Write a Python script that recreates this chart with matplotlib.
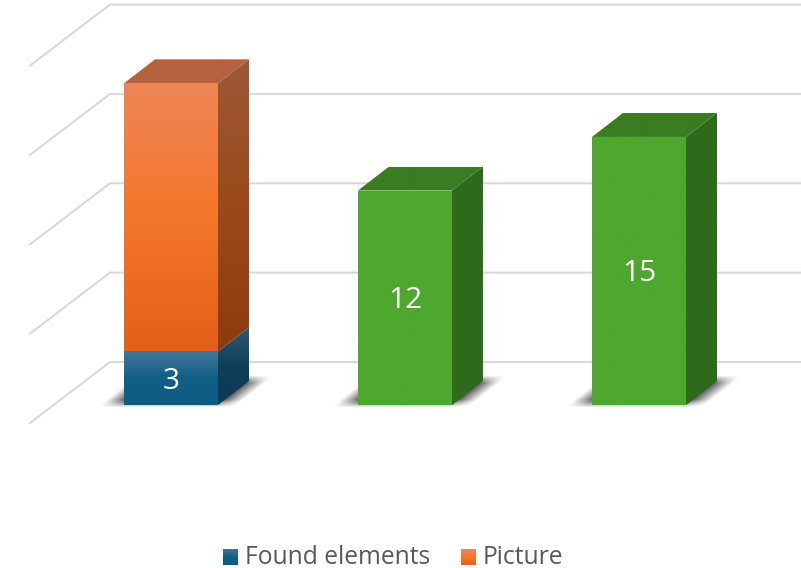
# 3D-looking stacked bars, drawn by hand since the look is not mplot3d's

import numpy as np
from matplotlib import pyplot as plt
from matplotlib.colors import LinearSegmentedColormap
from matplotlib.patches import Polygon

categories = ["A", "B", "C"]
found_elements = [3, 0, 0]
picture = [15, 0, 0]
other = [0, 12, 15]
grid_values = [0, 5, 10, 15, 20]
legend_labels = ["Found elements", "Picture"]

PX_X = 234.0  # pixels per category
PX_Y = 17.87  # pixels per value unit
BAR_W = 94 / PX_X
DEPTH_X = 31 / PX_X
DEPTH_Y = 24 / PX_Y

BLUE = {
    "front": ["#0f5a80", "#115f87", "#44779a"],
    "side": ["#0a3a55", "#0e3f5a", "#33596f"],
    "top": ["#33596f", "#33596f"],
}
ORANGE = {
    "front": ["#e45f1a", "#f4772a", "#ef8556"],
    "side": ["#8c3b0e", "#9a4a1c", "#9c5836"],
    "top": ["#b5623f", "#b5623f"],
}
GREEN = {
    "front": ["#4ea72e", "#4ea72e"],
    "side": ["#2f6a1c", "#2f6a1c"],
    "top": ["#3a7c22", "#3a7c22"],
}


def px_x(px):
    return (px - 124) / PX_X


def px_y(px):
    return (405 - px) / PX_Y


def gradient_poly(ax, points, colors, zorder):
    # vertical gradient clipped to a polygon, colors go bottom to top
    xs = [p[0] for p in points]
    ys = [p[1] for p in points]
    cmap = LinearSegmentedColormap.from_list("g", colors)
    grad = np.linspace(1, 0, 256).reshape(-1, 1)
    im = ax.imshow(
        grad,
        cmap=cmap,
        vmin=0,
        vmax=1,
        extent=(min(xs), max(xs), min(ys), max(ys)),
        aspect="auto",
        origin="upper",
        zorder=zorder,
        interpolation="bilinear",
    )
    clip = Polygon(points, closed=True, transform=ax.transData, fc="none", ec="none")
    ax.add_patch(clip)
    im.set_clip_path(clip)


def plot_walls(ax):
    for v in grid_values:
        x_front, x_back = px_x(30), px_x(110)
        y_front = v + px_y(423)
        y_back = v + px_y(362)
        ax.plot(
            [x_front, x_back, px_x(801)],
            [y_front, y_back, y_back],
            color="#d9d9d9",
            lw=1.5,
            zorder=1,
            solid_joinstyle="miter",
        )


def plot_shadow(ax, i):
    # soft shadow on the floor, a leaning box with blurred edges in an RGBA image
    w, h = 190, 40  # image size in pixels
    yy, xx = np.mgrid[0:h, 0:w]
    up = h - 1 - yy - 4  # pixels above the bar base
    u = xx - up * 33 / 26  # pixels along the base after removing the lean
    du = np.minimum(u, 137 - u)
    dv = np.minimum(up + 3, 29 - up)
    alpha = np.clip(du / 20, 0, 1) * np.clip(dv / 8, 0, 1)
    rgba = np.zeros((h, w, 4))
    rgba[..., :3] = 0.25
    rgba[..., 3] = alpha * 0.9
    left = i + (100 - 124) / PX_X
    ax.imshow(
        rgba,
        extent=(left, left + w / PX_X, -4 / PX_Y, (h - 4) / PX_Y),
        aspect="auto",
        origin="upper",
        zorder=2,
        interpolation="bilinear",
    )


def plot_segment(ax, i, bottom, height, style, zorder, with_top):
    left, right = i, i + BAR_W
    top = bottom + height
    gradient_poly(
        ax,
        [(right, bottom), (right + DEPTH_X, bottom + DEPTH_Y),
         (right + DEPTH_X, top + DEPTH_Y), (right, top)],
        style["side"],
        zorder,
    )
    if with_top:
        gradient_poly(
            ax,
            [(left, top), (right, top),
             (right + DEPTH_X, top + DEPTH_Y), (left + DEPTH_X, top + DEPTH_Y)],
            style["top"],
            zorder,
        )
    gradient_poly(
        ax,
        [(left, bottom), (right, bottom), (right, top), (left, top)],
        style["front"],
        zorder + 0.1,
    )


def plot_bars(ax):
    for i in range(len(categories)):
        plot_shadow(ax, i)
    for i in range(len(categories)):
        bottom = 0
        total = found_elements[i] + picture[i] + other[i]
        for values, style, show in [
            (found_elements, BLUE, True),
            (picture, ORANGE, False),
            (other, GREEN, True),
        ]:
            if values[i] == 0:
                continue
            plot_segment(ax, i, bottom, values[i], style, 3, bottom + values[i] == total)
            if show:
                ax.text(
                    i + BAR_W / 2,
                    bottom + values[i] / 2 - 3 / PX_Y,
                    str(values[i]),
                    color="white",
                    fontsize=21.5,
                    ha="center",
                    va="center",
                    zorder=6,
                )
            bottom += values[i]


def plot_legend(ax):
    for label, style, sw, tx in zip(
        legend_labels, [BLUE, ORANGE], [223, 461], [245, 483]
    ):
        l, r, b, t = px_x(sw), px_x(sw + 15), px_y(565), px_y(549)
        gradient_poly(ax, [(l, b), (r, b), (r, t), (l, t)], style["front"], 5)
        ax.text(
            px_x(tx),
            px_y(564),
            label,
            color="#595959",
            fontsize=17.7,
            ha="left",
            va="baseline",
        )


def main():
    plt.rcParams["font.family"] = ["Open Sans", "DejaVu Sans"]
    fig = plt.figure(figsize=(8.01, 5.68), dpi=100)
    ax = fig.add_axes([0, 0, 1, 1])
    ax.axis("off")

    plot_walls(ax)
    plot_bars(ax)
    plot_legend(ax)

    ax.set_xlim(px_x(0), px_x(801))
    ax.set_ylim(px_y(568), px_y(0))
    fig.savefig("out.png", dpi=100)


if __name__ == "__main__":
    main()
